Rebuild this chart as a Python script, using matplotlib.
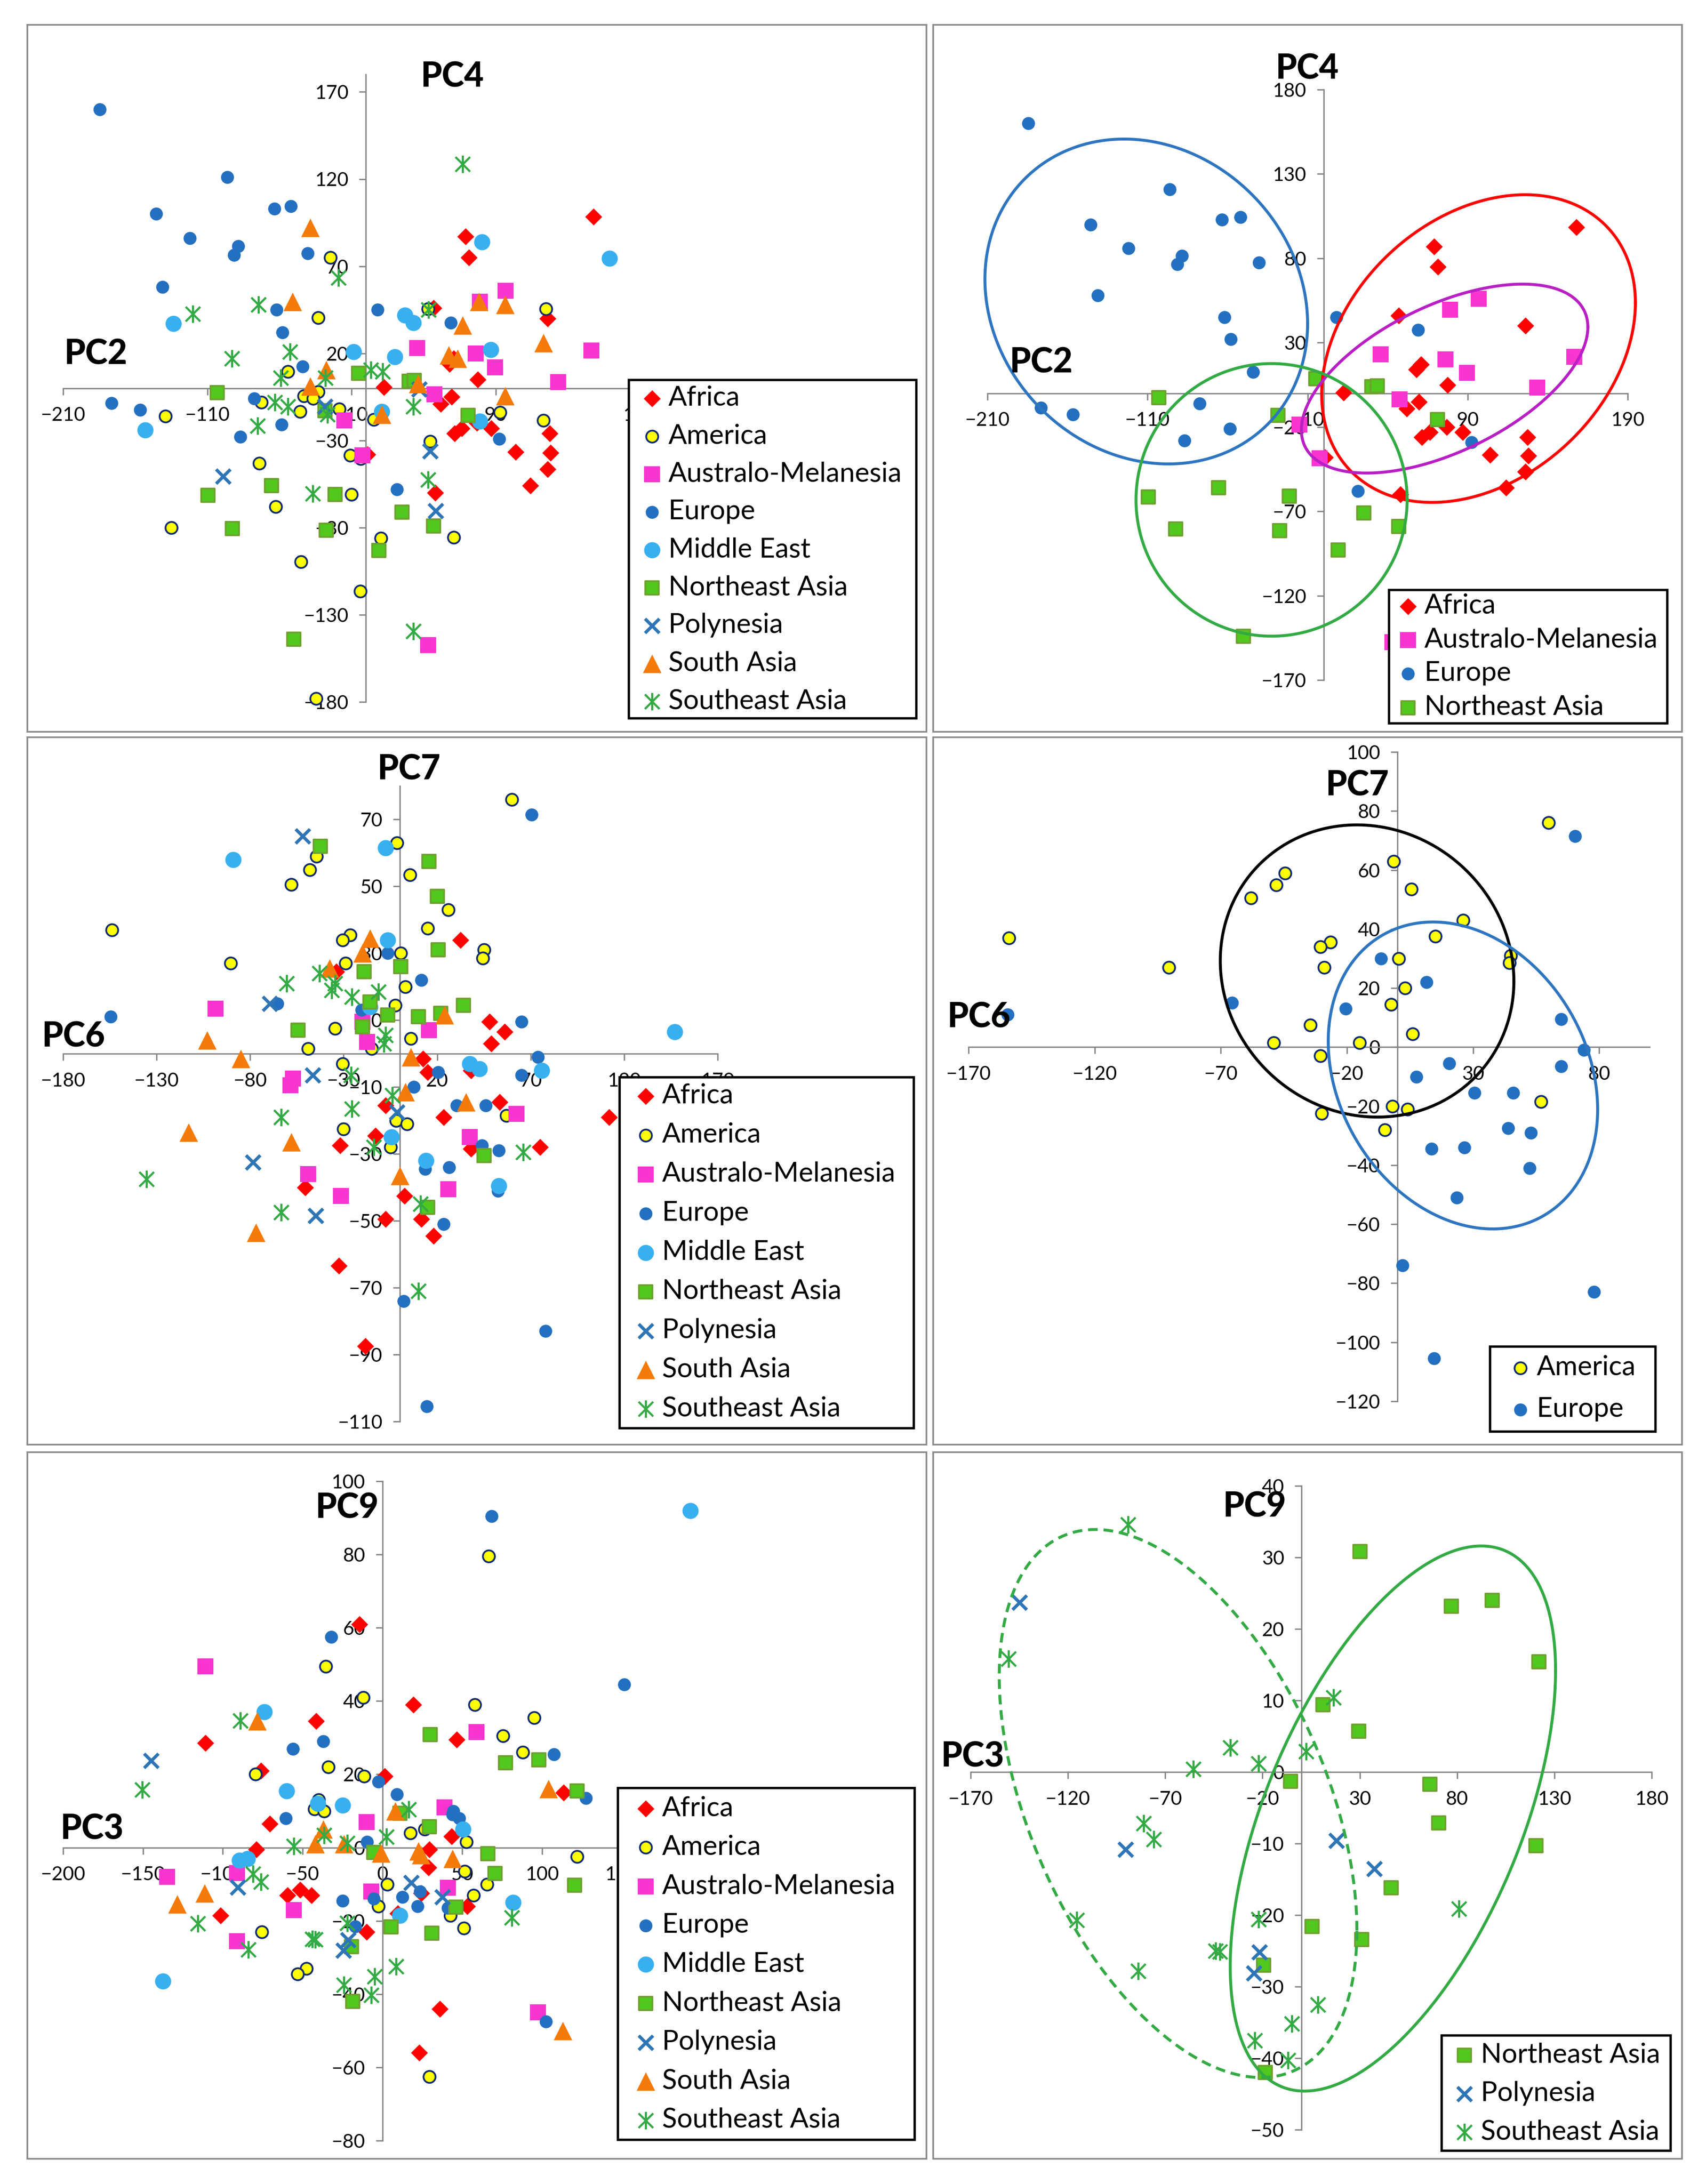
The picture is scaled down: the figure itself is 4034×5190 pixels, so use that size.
import numpy as np
from matplotlib import pyplot as plt
from matplotlib.patches import Rectangle
from matplotlib.path import Path

plt.rcParams['font.family'] = ['Lato', 'DejaVu Sans']

W, H = 4034, 5190

# PC2 / PC4
africa_24 = [(158, 98.5), (69, 87), (71.5, 75), (47, 46), (126, 40), (61, 17), (58, 14), (77.5, 5), (12.5, 0.5),
             (59.5, -5), (52, -9), (77, -20), (87, -23), (66.5, -23), (61.5, -26), (127.5, -26), (104, -36.5),
             (128, -37), (126, -46.5), (114, -56), (48, -60), (1, -38)]
america_24 = [(-24.5, 75), (125, 45.5), (43, 45.5), (-33, 40.5), (-54, 9.5), (-33, -2), (-43, -4.5), (-36.5, -6),
              (-72.5, -8), (-45.5, -13.5), (-18.5, -12), (93, -14), (5.5, -18), (123, -18.5), (-139, -16),
              (44.5, -30.5), (-11, -38.5), (-3.5, -40.5), (-74, -43), (-10, -61), (-62.5, -68), (-135, -80),
              (10.5, -86), (61, -85.5), (-45, -99.5), (-4, -116.5), (-34.5, -178)]
austral_24 = [(97, 56), (79, 49.5), (35.5, 23), (76, 20), (156.5, 21.5), (89.5, 12), (133.5, 3.5), (47.5, -3.5),
              (-15, -18.5), (-2.5, -38.5), (43, -147.5)]
europe_24 = [(-184.5, 160), (-96, 121), (-145.5, 100), (-63.5, 103), (-52, 104.5), (-122, 86), (-88.5, 81.5),
             (-91.5, 76.5), (-40.5, 77.5), (-141, 58), (-62, 45), (8, 45), (59, 37.5), (-58, 32), (-44, 12.5),
             (-176.5, -8.5), (-156.5, -12.5), (-77.5, -6), (-58.5, -21), (-87, -28), (92.5, -29), (21.5, -58)]
mideast_24 = [(80.5, 84), (169, 74.5), (27, 42), (33, 37.5), (-133.5, 37), (-8.5, 21), (20, 18), (86.5, 22),
              (11, -13.5), (79, -19), (-153, -24)]
neasia_24 = [(-103, -2.5), (-5, 8.5), (30, 4), (33.5, 4.5), (-28.5, -13), (71, -15.5), (-109.5, -61.5),
             (-65.5, -56), (-21.5, -61), (-92.5, -80.5), (-27.5, -81.5), (25, -71), (47, -79), (9, -93), (-50, -144)]
polynesia_24 = [(-99, -50.5), (-28.5, -10.5), (37, -0.5), (44.5, -36), (48.5, -70.5)]
sasia_24 = [(-38.5, 92), (-51, 49.5), (78.5, 49.5), (96.5, 48), (67, 36), (123, 26), (57.5, 19), (63.5, 17),
            (-27.5, 10.5), (-38.5, 1), (36, 2.5), (96.5, -4.5), (11, -15)]
seasia_24 = [(67, 128.5), (-19, 63.5), (-74.5, 48), (-120, 42.5), (43.5, 45), (-52.5, 21), (-93, 17), (-59, 6),
             (-28, 6), (3.5, 10.5), (11.5, 9.5), (-63, -8), (-54, -10.5), (33, -10.5), (-26.5, -15), (-75, -21.5),
             (43, -52.5), (-37, -60.5), (33, -139.5)]

# PC6 / PC7
africa_67 = [(32.5, 34), (-34, 24.5), (48, 9.5), (56, 6.5), (49, 3), (12.5, -1.5), (15, -5.5), (38, -5), (53.5, -14.5),
             (-7.5, -15.5), (23.5, -19), (112, -19), (-13, -24.5), (-32, -27.5), (75, -28), (38, -28.5), (-50.5, -40),
             (2.5, -42.5), (11.5, -49.5), (-7.5, -49.5), (18, -54.5), (-32.5, -63.5), (-18.5, -87.5)]
america_67 = [(60, 76), (-1.5, 63), (-44.5, 59), (-48, 55), (-58, 50.5), (5.5, 53.5), (26, 43), (-154, 37), (15, 37.5),
              (-26.5, 35.5), (-30.5, 34), (45, 31), (44.5, 28.5), (0.5, 30), (-90.5, 27), (-29, 27), (3, 20),
              (-2.5, 14.5), (-34.5, 7.5), (6, 4.5), (-49, 1.5), (-15, 1.5), (-30.5, -3), (57, -18.5), (-2, -20),
              (4, -21), (-30, -22.5), (-5, -28)]
austral_67 = [(-98.5, 13.5), (-20, 9.5), (15.5, 7), (-17.5, 3.5), (-57, -7.5), (-58.5, -9.5), (62.5, -18), (37.5, -25),
              (-49, -36), (-31.5, -42.5), (26, -40.5)]
europe_67 = [(70.5, 71.5), (-6.5, 30), (11.5, 22), (-65.5, 15), (-154.5, 11), (-20.5, 13), (65, 9.5), (74, -1),
             (20.5, -5.5), (65, -6.5), (7.5, -10), (30.5, -15.5), (46, -15.5), (44, -27.5), (53, -29), (13.5, -34.5),
             (26.5, -34), (52.5, -41), (23.5, -51), (2, -74), (78, -83), (14.5, -105.5)]
mideast_67 = [(-89, 58), (-7.5, 61.5), (-6.5, 34), (-16, 14), (147, 6.5), (37.5, -3), (42.5, -4.5), (76, -5),
              (-4.5, -25), (14, -32), (53, -39.5)]
neasia_67 = [(-42.5, 62), (15.5, 57.5), (20, 47), (20.5, 31), (0.5, 26), (-19, 24.5), (-16, 15.5), (34, 14.5),
             (-6.5, 11.5), (10, 11), (22, 12), (-20, 8), (-54.5, 7), (45, -30.5), (15, -46)]
polynesia_67 = [(-52, 65), (-69.5, 15), (-46.5, -6.5), (-1.5, -17.5), (-78.5, -32.5), (-45, -48.5)]
sasia_67 = [(-16, 34.5), (-20, 30), (-37.5, 25.5), (24, 11.5), (-103, 4), (-85, -1.5), (6, -1), (3, -11.5),
            (35.5, -14.5), (-113, -23.5), (-58, -26.5), (0, -36.5), (-77, -53.5)]
seasia_67 = [(-60.5, 21), (-43, 24), (-34.5, 21), (-36.5, 19), (-25.5, 17), (-11.5, 18.5), (-7.5, 5.5), (-8.5, 3),
             (-26, -6.5), (-4, -12.5), (-25.5, -16.5), (-63.5, -19), (-14, -28), (66, -29.5), (-135.5, -37.5),
             (11, -45), (-63.5, -47.5), (10, -71)]

# PC3 / PC9
africa_39 = [(-14.5, 61), (19.5, 39), (-41.5, 34.5), (46.5, 29.5), (-111, 28.5), (-76, 21), (1.5, 19.5), (113.5, 15),
             (-70.5, 6.5), (43.5, 3), (-79, -0.5), (29.5, -0.5), (29, -5.5), (24.5, -12.5), (-51.5, -11.5),
             (-59.5, -13), (-44.5, -13), (53, -16), (9.5, -18), (-101.5, -18.5), (-10, -23), (36, -44), (23, -56)]
america_39 = [(66.5, 79.5), (-35.5, 49.5), (-12, 41), (58, 39), (95, 35.5), (75.5, 30.5), (88, 26), (-34, 22),
              (-79.5, 20), (-11.5, 19.5), (-40, 13), (-42.5, 10.5), (-36.5, 10), (17.5, 4), (26.5, 5), (52.5, 1.5),
              (122, -2.5), (51.5, -6.5), (3, -10), (65.5, -10), (57, -13), (-2.5, -16), (42.5, -18.5), (51, -22),
              (-75.5, -23), (-47.5, -33), (-53, -34.5), (29.5, -62.5)]
austral_39 = [(-111, 49.5), (59, 31.5), (39, 11), (-10, 7), (-91, -7), (-135, -8), (41, -11), (-7, -12), (-55.5, -17),
              (-91, -25.5), (97.5, -45)]
europe_39 = [(68.5, 90.5), (151.5, 44.5), (-32, 57.5), (-37, 29), (-56, 27), (107.5, 25.5), (-2.5, 18), (9, 14.5),
             (127.5, 13.5), (44.5, 10), (44, 9), (48, 8), (-60.5, 8), (-9.5, 1.5), (23.5, -12), (-25, -14.5),
             (-5.5, -14), (12.5, -13.5), (22, -16), (41, -16.5), (-17, -21.5), (102.5, -47.5)]
mideast_39 = [(193, 92), (-74, 37), (-60, 15.5), (-40.5, 12), (-25, 11.5), (50.5, 5), (-84.5, -3), (-89.5, -3.5),
              (82, -15), (11, -18.5), (-137.5, -36.5)]
neasia_39 = [(30, 30.8), (77, 23.2), (98, 24), (122, 15.4), (11, 9.4), (29.5, 5.7), (-5.5, -1.3), (66, -1.7),
             (70.5, -7.1), (120.5, -10.3), (46, -16.2), (5.5, -21.6), (31, -23.4), (-19.5, -27), (-18.5, -42)]
polynesia_39 = [(-145, 23.7), (-90.5, -10.8), (18, -9.6), (37.5, -13.5), (-21.5, -25.2), (-24.5, -28.1)]
sasia_39 = [(-78.5, 34.5), (104, 16), (8, 10), (-37, 5), (-42, 1), (-24, 1), (-1, -1.5), (22.5, -1), (24, -2), (44, -3),
            (-111.5, -12.5), (-128.5, -15.5), (113, -50)]
seasia_39 = [(-89, 34.6), (-150.5, 15.8), (16.5, 10.4), (-36.5, 3.4), (2.5, 2.9), (-55.5, 0.4), (-22, 1.2),
             (-81, -7.2), (-76, -9.4), (-115.5, -20.7), (-22, -20.6), (81, -19.1), (-44, -25), (-42, -25.1),
             (-84, -27.8), (8.5, -32.5), (-5, -35.2), (-24, -37.5), (-7, -40.3)]

names = ['Africa', 'America', 'Australo-Melanesia', 'Europe', 'Middle East', 'Northeast Asia', 'Polynesia',
         'South Asia', 'Southeast Asia']
data_24 = [africa_24, america_24, austral_24, europe_24, mideast_24, neasia_24, polynesia_24, sasia_24, seasia_24]
data_67 = [africa_67, america_67, austral_67, europe_67, mideast_67, neasia_67, polynesia_67, sasia_67, seasia_67]
data_39 = [africa_39, america_39, austral_39, europe_39, mideast_39, neasia_39, polynesia_39, sasia_39, seasia_39]

# excel's star marker: an x with a vertical bar through it
star = Path([(-.5, -.5), (.5, .5), (-.5, .5), (.5, -.5), (0, -.6), (0, .6)],
            [Path.MOVETO, Path.LINETO, Path.MOVETO, Path.LINETO, Path.MOVETO, Path.LINETO])

styles = {
    'Africa': dict(marker='D', s=420, c='#FF0000', linewidths=0),
    'America': dict(marker='o', s=420, c='#FFFF00', edgecolors='#0F2A6F', linewidths=3),
    'Australo-Melanesia': dict(marker='s', s=710, c='#F935D0', linewidths=0),
    'Europe': dict(marker='o', s=490, c='#2470C0', linewidths=0),
    'Middle East': dict(marker='o', s=760, c='#38B0F0', linewidths=0),
    'Northeast Asia': dict(marker='s', s=500, c='#50C81E', edgecolors='#6FA030', linewidths=3),
    'Polynesia': dict(marker='x', s=600, c='#2E75B6', linewidths=5.5),
    'South Asia': dict(marker='^', s=1000, c='#F47A0A', linewidths=0),
    'Southeast Asia': dict(marker=star, s=900, c='#33AA44', linewidths=3.6),
}

# pixel boxes of the panels: frame, plot area, limits
panels = [
    dict(frame=(65, 59, 2201, 1739), box=(150, 177, 1520, 1668), xlim=(-210, 190), ylim=(-180, 180),
         xt=np.arange(-210, 191, 100), yt=np.arange(-180, 171, 50), data=data_24, keep=names,
         legend=(1494, 903, 2177, 1707), spacing=0.476, first=(55, 43),
         xl=('PC2', 228, 842), yl=('PC4', 1075, 183)),
    dict(frame=(2217, 59, 3996, 1739), box=(2346, 213, 3867, 1616), xlim=(-210, 190), ylim=(-170, 180),
         xt=np.arange(-210, 191, 100), yt=np.arange(-170, 181, 50), data=data_24,
         keep=['Africa', 'Australo-Melanesia', 'Europe', 'Northeast Asia'],
         legend=(3300, 1402, 3961, 1719), spacing=0.325, first=(45, 38),
         xl=('PC2', 2474, 862), yl=('PC4', 3106, 164)),
    dict(frame=(65, 1752, 2201, 3433), box=(150, 1868, 1705, 3378), xlim=(-180, 170), ylim=(-110, 80),
         xt=np.arange(-180, 171, 50), yt=np.arange(-110, 71, 20), data=data_67, keep=names,
         legend=(1472, 2560, 2171, 3394), spacing=0.52, first=(62, 44),
         xl=('PC6', 175, 2464), yl=('PC7', 972, 1829)),
    dict(frame=(2217, 1752, 3996, 3433), box=(2301, 1787, 3919, 3330), xlim=(-170, 100), ylim=(-120, 100),
         xt=np.arange(-170, 81, 50), yt=np.arange(-120, 101, 20), data=data_67, keep=['America', 'Europe'],
         legend=(3540, 3200, 3933, 3402), spacing=0.62, first=(72, 50),
         xl=('PC6', 2326, 2418), yl=('PC7', 3225, 1867)),
    dict(frame=(65, 3451, 2201, 5130), box=(150, 3520, 1667, 5087), xlim=(-200, 200), ylim=(-80, 100),
         xt=np.arange(-200, 201, 50), yt=np.arange(-80, 101, 20), data=data_39, keep=names,
         legend=(1468, 4249, 2173, 5085), spacing=0.515, first=(66, 48),
         xl=('PC3', 219, 4347), yl=('PC9', 825, 3584)),
    dict(frame=(2217, 3451, 3996, 5130), box=(2306, 3531, 3924, 5061), xlim=(-170, 180), ylim=(-50, 40),
         xt=np.arange(-170, 181, 50), yt=np.arange(-50, 41, 10), data=data_39,
         keep=['Northeast Asia', 'Polynesia', 'Southeast Asia'],
         legend=(3425, 4837, 3969, 5111), spacing=0.5, first=(54, 46),
         xl=('PC3', 2311, 4175), yl=('PC9', 2981, 3581)),
]

# cx, cy, half width, half height, tilt in degrees, colour, style
ellipses = [
    [],
    [(-110.8, 54.4, 100.8, 96.3, -7.9, '#2E75C0', '-'), (96.8, 26.5, 98, 91.2, 17.3, '#FF0000', '-'),
     (75.6, 8.7, 89.5, 56, 33, '#B81FC4', '-'), (-32.5, -63.2, 84.7, 80.8, 0, '#33AA44', '-')],
    [],
    [(-12, 25.8, 58.2, 49.5, -4, '#000000', '-'), (26, -9.6, 53.4, 52, -12.8, '#2E75C0', '-')],
    [],
    [(47, -6.5, 83.6, 38.1, 32.9, '#33AA44', '-'), (-63.4, -4.4, 91.9, 38.3, -27.6, '#33AA44', (0, (3.3, 2)))],
]


def fx(px):
    return px / W


def fy(py):
    return 1 - py / H


def draw_panel(fig, p, rings):
    x0, y0, x1, y1 = p['frame']
    fig.add_artist(Rectangle((fx(x0), fy(y1)), (x1 - x0) / W, (y1 - y0) / H, transform=fig.transFigure,
                             fill=False, edgecolor='#8C8C8C', linewidth=2.9))
    bx0, by0, bx1, by1 = p['box']
    ax = fig.add_axes([fx(bx0), fy(by1), (bx1 - bx0) / W, (by1 - by0) / H])
    ax.patch.set_alpha(0)
    ax.set_xlim(*p['xlim'])
    ax.set_ylim(*p['ylim'])
    ax.spines['top'].set_visible(False)
    ax.spines['right'].set_visible(False)
    ax.spines['left'].set_position(('data', 0))
    ax.spines['bottom'].set_position(('data', 0))
    ax.spines['left'].set_color('#868686')
    ax.spines['bottom'].set_color('#868686')
    ax.spines['left'].set_linewidth(2.4)
    ax.spines['bottom'].set_linewidth(2.4)
    ax.set_xticks(p['xt'])
    ax.set_yticks(p['yt'])
    ax.tick_params(axis='x', length=11.5, width=2.4, color='#868686', labelsize=33, pad=20, labelcolor='black')
    ax.tick_params(axis='y', length=11.5, width=2.4, color='#868686', labelsize=33, pad=18, labelcolor='black')

    handles = []
    for name, pts in zip(names, p['data']):
        if name not in p['keep']:
            continue
        xs = [a for a, b in pts]
        ys = [b for a, b in pts]
        handles.append(ax.scatter(xs, ys, label=name, zorder=3, clip_on=False, **styles[name]))

    t = np.linspace(0, 2 * np.pi, 400)
    for cx, cy, a, b, tilt, col, ls in rings:
        ax.plot(cx + a * np.cos(t), cy + b * np.sin(t + np.radians(tilt)), color=col, linewidth=5, linestyle=ls,
                zorder=4, clip_on=False)

    # white box first, then a frameless legend placed inside it
    lx0, ly0, lx1, ly1 = p['legend']
    ax.add_patch(Rectangle((fx(lx0), fy(ly1)), (lx1 - lx0) / W, (ly1 - ly0) / H, transform=fig.transFigure,
                           facecolor='white', edgecolor='black', linewidth=4, zorder=5, clip_on=False))
    mx, my = p['first']
    leg = ax.legend(handles=handles, loc='upper left', scatterpoints=1, frameon=False,
                    bbox_to_anchor=(fx(lx0 + mx - 33), fy(ly0 + my - 30)), bbox_transform=fig.transFigure,
                    borderaxespad=0, borderpad=0, fontsize=47, labelspacing=p['spacing'],
                    handlelength=1, handletextpad=0.1)
    leg.set_zorder(6)

    for label, tx, ty in (p['xl'], p['yl']):
        fig.text(fx(tx), fy(ty), label, fontsize=58, fontweight=900, ha='center', va='center', color='black',
                 zorder=10)


def main():
    fig = plt.figure(figsize=(W / 100, H / 100), dpi=100, facecolor='white')
    for p, rings in zip(panels, ellipses):
        draw_panel(fig, p, rings)
    fig.savefig('out.png', dpi=100)


if __name__ == "__main__":
    main()
